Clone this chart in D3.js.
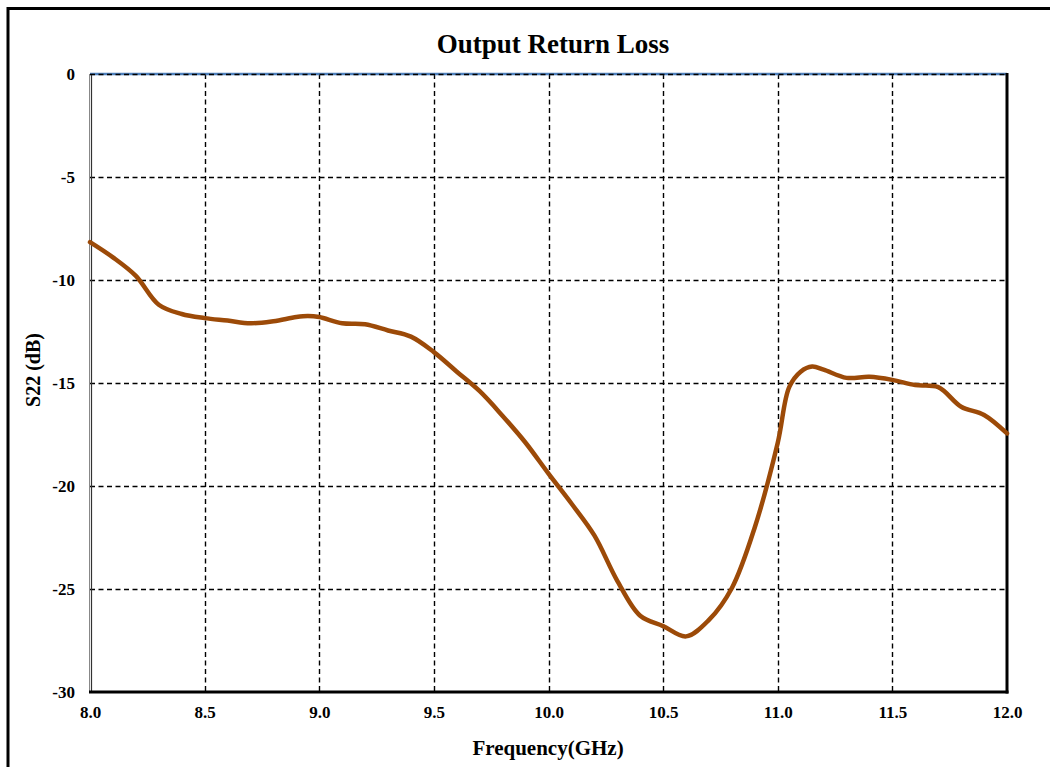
<!DOCTYPE html>
<html><head><meta charset="utf-8">
<script src="https://cdn.jsdelivr.net/npm/d3@7"></script>
<style>body{margin:0;background:#fff}svg{display:block}text{font-family:"Liberation Serif","Times New Roman",serif;font-weight:bold;fill:#000}</style>
</head><body><svg id="c" width="1050" height="767"></svg>
<script>
const freq = [8.0,8.1,8.2,8.3,8.4,8.5,8.6,8.7,8.8,8.9,8.95,9.0,9.1,9.2,9.3,9.4,9.5,9.6,9.7,9.8,9.9,10.0,10.1,10.2,10.3,10.4,10.5,10.6,10.7,10.8,10.9,11.0,11.05,11.1,11.15,11.2,11.3,11.4,11.5,11.6,11.7,11.8,11.9,12.0];
const s22 = [-8.16,-8.9,-9.8,-11.2,-11.65,-11.85,-11.97,-12.1,-12.0,-11.8,-11.75,-11.8,-12.1,-12.15,-12.45,-12.75,-13.5,-14.45,-15.4,-16.6,-17.9,-19.4,-20.85,-22.4,-24.6,-26.3,-26.8,-27.3,-26.5,-24.95,-22.0,-17.9,-15.2,-14.45,-14.2,-14.35,-14.75,-14.7,-14.85,-15.1,-15.2,-16.15,-16.55,-17.45];
const xTicks = [8.0,8.5,9.0,9.5,10.0,10.5,11.0,11.5,12.0];
const yTicks = [0,-5,-10,-15,-20,-25,-30];
const title = "Output Return Loss", xTitle = "Frequency(GHz)", yTitle = "S22 (dB)";

const svg = d3.select("#c");
const L=90, R=1007, T=74, B=692;
const x = d3.scaleLinear().domain([8,12]).range([L,R]);
const y = d3.scaleLinear().domain([-30,0]).range([B,T]);

svg.append("rect").attr("x",8).attr("y",8.5).attr("width",1100).attr("height",800)
  .attr("fill","none").attr("stroke","#000").attr("stroke-width",3);

// grid
svg.append("g").selectAll("line").data(xTicks.slice(1,-1)).join("line")
  .attr("x1",d=>Math.round(x(d))+0.5).attr("x2",d=>Math.round(x(d))+0.5).attr("y1",T).attr("y2",B)
  .attr("stroke","#000").attr("stroke-width",1.4).attr("stroke-dasharray","5,3.5");
svg.append("line").attr("x1",L).attr("x2",R).attr("y1",T).attr("y2",T)
  .attr("stroke","#4F81BD").attr("stroke-width",2.5);
svg.append("g").selectAll("line").data(yTicks.slice(0,-1)).join("line")
  .attr("x1",L).attr("x2",R).attr("y1",d=>Math.round(y(d))+0.5).attr("y2",d=>Math.round(y(d))+0.5)
  .attr("stroke","#000").attr("stroke-width",1.4).attr("stroke-dasharray","5,3.5");

// axes frame
svg.append("line").attr("x1",89.5).attr("x2",89.5).attr("y1",T).attr("y2",B).attr("stroke","#888").attr("stroke-width",1);
svg.append("line").attr("x1",91.5).attr("x2",91.5).attr("y1",T+1).attr("y2",B).attr("stroke","#333").attr("stroke-width",1.2);
svg.append("line").attr("x1",L-1).attr("x2",R+1.5).attr("y1",B).attr("y2",B).attr("stroke","#000").attr("stroke-width",3);
svg.append("line").attr("x1",R).attr("x2",R).attr("y1",T-1).attr("y2",B+1.5).attr("stroke","#000").attr("stroke-width",3);

// curve
const line = d3.line().x((d,i)=>x(freq[i])).y(d=>y(d)).curve(d3.curveCatmullRom.alpha(0.5));
svg.append("path").attr("d",line(s22)).attr("fill","none").attr("stroke","#9C4A08")
  .attr("stroke-width",4.5).attr("stroke-linejoin","round").attr("stroke-linecap","round");

// tick labels
const xa = d3.axisBottom(x).tickValues(xTicks).tickFormat(d3.format(".1f")).tickSize(0).tickPadding(14);
const gx = svg.append("g").attr("transform",`translate(0,${B})`).call(xa);
gx.select(".domain").remove();
gx.selectAll("text").style("font-size","17px").style("font-family","Liberation Serif").style("font-weight","bold");
const ya = d3.axisLeft(y).tickValues(yTicks).tickFormat(d=>String(d)).tickSize(0).tickPadding(15);
const gy = svg.append("g").attr("transform",`translate(${L},0)`).call(ya);
gy.select(".domain").remove();
gy.selectAll("text").style("font-size","17px").style("font-family","Liberation Serif").style("font-weight","bold");

svg.append("text").attr("x",553).attr("y",53).attr("text-anchor","middle").style("font-size","27px").text(title);
svg.append("text").attr("x",548).attr("y",755).attr("text-anchor","middle").style("font-size","21px").text(xTitle);
svg.append("text").attr("transform","translate(40,370) rotate(-90)").attr("text-anchor","middle").style("font-size","20px").text(yTitle);
</script></body></html>
